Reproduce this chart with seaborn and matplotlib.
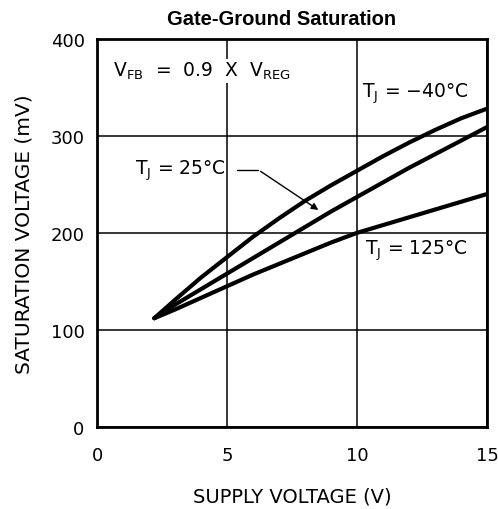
"""
Gate-ground saturation voltage vs supply voltage
"""
import matplotlib
matplotlib.use('Agg')
import matplotlib.pyplot as plt
import pandas as pd
import seaborn as sns

supply_v = [2.2, 3, 4, 5, 6, 7, 8, 9, 10, 11, 12, 13, 14, 15]
sat_m40 = [112, 131, 154, 175, 196, 215, 233, 249, 264, 279, 293, 306, 318, 328]
sat_25 = [112, 126, 142, 158, 174, 190, 206, 222, 237, 252, 267, 281, 295, 309]
sat_125 = [112, 121, 133, 145, 157, 168, 179, 190, 200, 208, 216, 224, 232, 240]
temps = ['-40', '25', '125']


def main():
    frames = []
    for t, vals in zip(temps, [sat_m40, sat_25, sat_125]):
        frames.append(pd.DataFrame({'supply': supply_v, 'sat': vals, 'temp': t}))
    df = pd.concat(frames, ignore_index=True)

    sns.set_style('white')
    plt.rcParams['font.family'] = ['DejaVu Sans']
    plt.rcParams['text.color'] = 'black'
    plt.rcParams['axes.labelcolor'] = 'black'
    plt.rcParams['xtick.color'] = 'black'
    plt.rcParams['ytick.color'] = 'black'

    fig = plt.figure(figsize=(4.98, 5.10), dpi=100)
    ax = fig.add_axes([0.195, 0.161, 0.783, 0.761])
    sns.lineplot(data=df, x='supply', y='sat', hue='temp', palette=['black'] * 3,
                 linewidth=3, legend=False, ax=ax)

    ax.set_xlim(0, 15)
    ax.set_ylim(0, 400)
    ax.set_xticks([0, 5, 10, 15])
    ax.set_yticks([0, 100, 200, 300, 400])
    ax.grid(True, color='black', linewidth=1.1)
    ax.tick_params(axis='x', length=0, labelsize=13, pad=14)
    ax.tick_params(axis='y', length=0, labelsize=13, pad=9)
    for s in ax.spines.values():
        s.set_color('black')
        s.set_linewidth(2)

    ax.set_xlabel('SUPPLY VOLTAGE (V)', fontsize=14, labelpad=16)
    ax.set_ylabel('SATURATION VOLTAGE (mV)', fontsize=14.5, labelpad=12)
    fig.text(0.566, 0.961, 'Gate-Ground Saturation', fontsize=14.5, fontweight='bold',
             family='Liberation Sans', ha='center', va='center')

    box = dict(facecolor='white', edgecolor='none', pad=1)
    ax.text(0.6, 367, r'V$_{\rm FB}$  =  0.9  X  V$_{\rm REG}$', fontsize=13.5,
            va='center', bbox=box)
    ax.text(10.2, 344, r'T$_{\rm J}$ = $-$40°C', fontsize=13.5, va='center')
    ax.text(1.45, 265, r'T$_{\rm J}$ = 25°C', fontsize=13.5, va='center')
    ax.text(10.3, 183, r'T$_{\rm J}$ = 125°C', fontsize=13.5, va='center')

    ax.plot([5.4, 6.2], [265, 265], color='black', linewidth=1)
    ax.annotate('', xy=(8.6, 222), xytext=(6.2, 265),
                arrowprops=dict(arrowstyle='-|>', color='black', lw=1, mutation_scale=10))

    fig.savefig('out.png', dpi=100)


if __name__ == '__main__':
    main()
